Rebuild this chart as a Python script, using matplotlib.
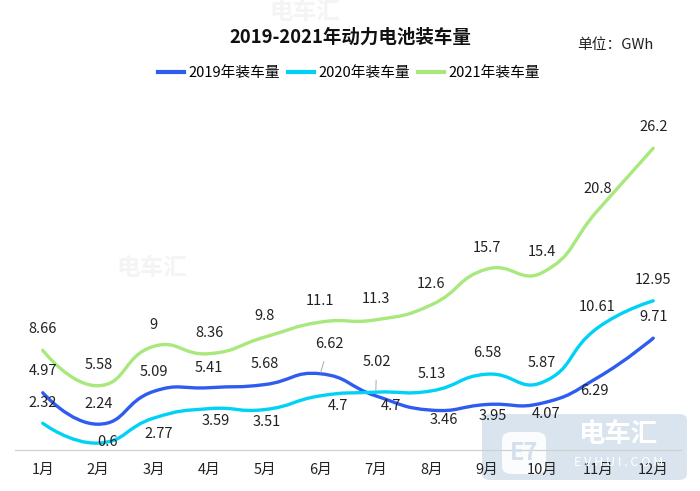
import numpy as np
import matplotlib
matplotlib.use("Agg")
import matplotlib.pyplot as plt
from matplotlib.path import Path
from matplotlib.patches import PathPatch, FancyBboxPatch

plt.rcParams['font.family'] = ['Noto Sans CJK SC', 'DejaVu Sans']

months = ['1月', '2月', '3月', '4月', '5月', '6月', '7月', '8月', '9月', '10月', '11月', '12月']
v2019 = [4.97, 2.24, 5.09, 5.41, 5.68, 6.62, 4.7, 3.46, 3.95, 4.07, 6.29, 9.71]
v2020 = [2.32, 0.6, 2.77, 3.59, 3.51, 4.7, 5.02, 5.13, 6.58, 5.87, 10.61, 12.95]
v2021 = [8.66, 5.58, 9, 8.36, 9.8, 11.1, 11.3, 12.6, 15.7, 15.4, 20.8, 26.2]
series_names = ['2019年装车量', '2020年装车量', '2021年装车量']
colors = ['#2f5cf0', '#00d2f5', '#a8e87c']

# label offsets in pixels (dx, dy up), echarts moved some labels to avoid overlap
off2019 = [(0, 22), (0, 20), (0, 19), (0, 20), (0, 21), (9, 30), (15, -10), (13, -10),
           (6, -12), (4, -11), (-3, -13), (0, 21)]
off2020 = [(0, 20), (9, 1), (5, -16), (6, -12), (2, -12), (18, -10), (1, 30), (1, 17),
           (0, 21), (0, 19), (-1, 21), (0, 21)]
off2021 = [(0, 21)] * 12
lead2019 = {5}
lead2020 = {1, 6}

W, H = 700, 491
fig = plt.figure(figsize=(7, 4.91), dpi=100)

# plot area in pixels
x0, x1 = 15, 681
ybase, ytop = 450, 104.4
ymax = 30
ax = fig.add_axes([x0 / W, 1 - ybase / H, (x1 - x0) / W, (ybase - ytop) / H])
ax.set_xlim(-0.5, 11.5)
ax.set_ylim(0, ymax)
ax.patch.set_alpha(0)
for s in ['top', 'right', 'left']:
    ax.spines[s].set_visible(False)
ax.spines['bottom'].set_color('#d0d0d0')
ax.spines['bottom'].set_linewidth(0.9)
ax.set_yticks([])
ax.set_xticks(range(12))
ax.set_xticklabels(months, fontsize=10.5, color='#222222')
ax.tick_params(axis='x', length=0, pad=9)

px_x = (x1 - x0) / 12.0
px_y = (ybase - ytop) / ymax


def smooth_path(ys, smooth=0.5):
    # echarts-like bezier smoothing, computed in pixel space
    pts = np.array([[i * px_x, y * px_y] for i, y in enumerate(ys)])
    n = len(pts)
    verts = [pts[0]]
    codes = [Path.MOVETO]
    cps = []
    for i in range(n):
        p = pts[i]
        if i == 0 or i == n - 1:
            cps.append((p, p))
            continue
        prev, nxt = pts[i - 1], pts[i + 1]
        v = nxt - prev
        d0 = np.hypot(*(p - prev))
        d1 = np.hypot(*(nxt - p))
        r = d1 / (d0 + d1)
        cps.append((p - v * smooth * (1 - r), p + v * smooth * r))
    for i in range(n - 1):
        verts += [cps[i][1], cps[i + 1][0], pts[i + 1]]
        codes += [Path.CURVE4] * 3
    verts = np.array(verts)
    verts[:, 0] /= px_x
    verts[:, 1] /= px_y
    return Path(verts, codes)


all_vals = [v2019, v2020, v2021]
all_off = [off2019, off2020, off2021]
all_lead = [lead2019, lead2020, set()]
handles = []
for vals, col, name in zip(all_vals, colors, series_names):
    ax.add_patch(PathPatch(smooth_path(vals), fill=False, edgecolor=col, lw=2.4,
                           capstyle='round', zorder=3))
    h, = ax.plot([], [], color=col, lw=3, label=name)
    handles.append(h)

for vals, offs, lead in zip(all_vals, all_off, all_lead):
    for i, (v, (dx, dy)) in enumerate(zip(vals, offs)):
        kw = {}
        if i in lead:
            kw['arrowprops'] = dict(arrowstyle='-', color='#aaaaaa', lw=0.7,
                                    shrinkA=6, shrinkB=1)
        ax.annotate(f'{v:g}', xy=(i, v), xytext=(dx * 0.72, dy * 0.72),
                    textcoords='offset points', ha='center', va='center',
                    fontsize=10.5, color='#222222', zorder=5, **kw)

# title, unit and legend
fig.text(0.5, 1 - 37 / H, '2019-2021年动力电池装车量', ha='center', va='center',
         fontsize=13.3, fontweight='bold', color='#111111')
fig.text(615 / W, 1 - 45 / H, '单位：GWh', ha='center', va='center',
         fontsize=10.6, color='#222222')
fig.legend(handles=handles, loc='center', bbox_to_anchor=(349 / W, 1 - 73 / H),
           ncol=3, frameon=False, fontsize=10.6, handlelength=1.8,
           handletextpad=0.3, columnspacing=0.5)

# watermarks
box = FancyBboxPatch((482 / W, 1 - 480 / H), 205 / W, 66 / H,
                     boxstyle='round,pad=0,rounding_size=0.012',
                     transform=fig.transFigure, facecolor='#d3e0ec', alpha=0.85,
                     edgecolor='none', zorder=0)
fig.add_artist(box)
logo = FancyBboxPatch((502 / W, 1 - 474 / H), 44 / W, 42 / H,
                      boxstyle='round,pad=0,rounding_size=0.015',
                      transform=fig.transFigure, facecolor='white', alpha=0.9,
                      edgecolor='none', zorder=0)
fig.add_artist(logo)
fig.text(524 / W, 1 - 453 / H, 'E7', ha='center', va='center', fontsize=17,
         fontweight='bold', color='#d3e0ec', zorder=0)
fig.text(618 / W, 1 - 434 / H, '电车汇', ha='center', va='center', fontsize=19,
         fontweight='bold', color='white', zorder=0)
fig.text(619 / W, 1 - 463 / H, 'E V H U I . C O M', ha='center', va='center',
         fontsize=9, color='white', zorder=0)
for (wx, wy) in [(152, 268), (305, 12)]:
    fig.text(wx / W, 1 - wy / H, '电车汇', ha='center', va='center', fontsize=17,
             fontweight='bold', color='#f4f4f4', zorder=0)

fig.savefig('out.png', dpi=100)
